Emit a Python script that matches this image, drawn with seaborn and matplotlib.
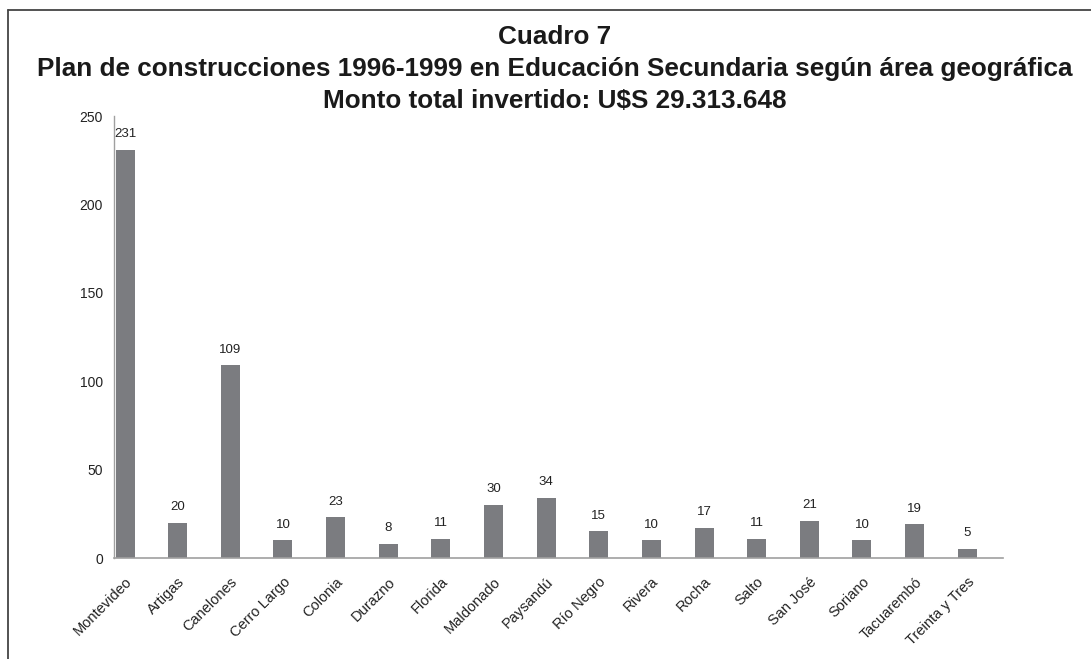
import matplotlib
matplotlib.use("Agg")
import matplotlib.pyplot as plt
import seaborn as sns
import pandas as pd
from matplotlib.lines import Line2D

departments = ["Montevideo", "Artigas", "Canelones", "Cerro Largo", "Colonia", "Durazno",
               "Florida", "Maldonado", "Paysandú", "Río Negro", "Rivera", "Rocha", "Salto",
               "San José", "Soriano", "Tacuarembó", "Treinta y Tres"]
values = [231, 20, 109, 10, 23, 8, 11, 30, 34, 15, 10, 17, 11, 21, 10, 19, 5]
yticks = [0, 50, 100, 150, 200, 250]
title_lines = ["Cuadro 7",
               "Plan de construcciones 1996-1999 en Educación Secundaria según área geográfica",
               "Monto total invertido: U$S 29.313.648"]

sns.set_theme(style="white")
plt.rcParams["font.family"] = ["Liberation Sans", "DejaVu Sans"]

df = pd.DataFrame({"dep": departments, "val": values})

fig = plt.figure(figsize=(10.91, 6.59), dpi=100)
ax = fig.add_axes([114/1091, 1-558/659, (1003-114)/1091, (558-116)/659])

sns.barplot(data=df, x="dep", y="val", color="#7b7c80", width=0.36, ax=ax,
            saturation=1, edgecolor="none")
ax.set_xlim(-0.21, 16.68)
ax.set_ylim(0, 250)
ax.set_yticks(yticks)
ax.set_yticklabels([str(v) for v in yticks], fontsize=10, color="#222222")
ax.set_xticks(range(len(departments)))
ax.set_xticklabels(departments, rotation=45, ha="right", rotation_mode="anchor",
                   fontsize=10.5, color="#222222")
ax.tick_params(axis="y", length=0, pad=8)
ax.tick_params(axis="x", length=0, pad=12)
ax.set_xlabel("")
ax.set_ylabel("")
for s in ["top", "right"]:
    ax.spines[s].set_visible(False)
ax.spines["left"].set_color("#a0a0a0")
ax.spines["bottom"].set_color("#a0a0a0")
ax.spines["left"].set_linewidth(1)
ax.spines["bottom"].set_linewidth(1.2)

for p, v in zip(ax.patches, values):
    ax.annotate(str(v), (p.get_x() + p.get_width()/2, p.get_height()),
                xytext=(0, 7), textcoords="offset points", ha="center", va="bottom",
                fontsize=9.5, color="#222222")

for txt, base in zip(title_lines, [44, 76, 108]):
    fig.text(555/1091, 1-base/659, txt, ha="center", va="baseline",
             fontsize=18.8, fontweight="bold", color="#1a1a1a")

fig.add_artist(Line2D([8/1091, 8/1091], [0, 1-10/659], transform=fig.transFigure,
                      color="#444444", lw=1.3))
fig.add_artist(Line2D([8/1091, 1], [1-10/659, 1-10/659], transform=fig.transFigure,
                      color="#444444", lw=1.3))

fig.savefig("out.png", dpi=100)
